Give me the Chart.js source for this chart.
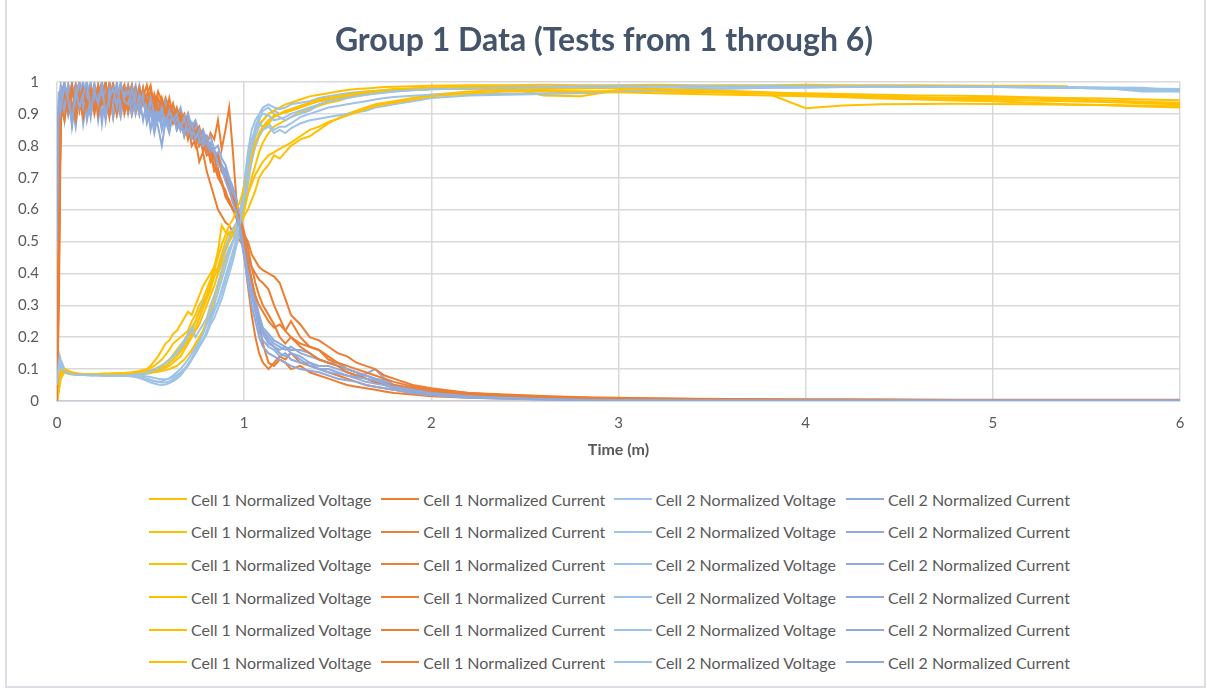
<!DOCTYPE html>
<html>
<head>
<meta charset="utf-8">
<title>Group 1 Data</title>
<script src="https://cdn.jsdelivr.net/npm/chart.js@4.4.0/dist/chart.umd.min.js"></script>
<style>
  html, body { margin: 0; padding: 0; background: #fff; }
  #wrap { position: relative; width: 1207px; height: 688px; overflow: hidden; }
  #frame { position: absolute; left: 5px; top: -2px; width: 1201px; height: 690px; border: 2px solid #dcdfe3; box-sizing: border-box; }
  #chart { position: absolute; left: 0; top: 0; }
  #legend { position: absolute; left: 149px; top: 483px; display: grid; grid-template-columns: repeat(4, 232.3px); grid-auto-rows: 32.6px; font-family: Lato, sans-serif; font-size: 16px; color: #595959; }
  .item { display: flex; align-items: center; white-space: nowrap; }
  .swatch { width: 38px; height: 2px; margin-right: 4px; }
</style>
</head>
<body>
<div id="wrap">
  <div id="frame"></div>
  <canvas id="chart" width="1207" height="470"></canvas>
  <div id="legend"></div>
</div>
<script>
// time in minutes, shared by every series
const times = [
  0, 0.01, 0.02, 0.04, 0.06, 0.08, 0.1, 0.12, 0.14, 0.16,
  0.18, 0.2, 0.22, 0.24, 0.26, 0.28, 0.3, 0.32, 0.34, 0.36,
  0.38, 0.4, 0.42, 0.44, 0.46, 0.48, 0.5, 0.52, 0.54, 0.56,
  0.58, 0.6, 0.62, 0.64, 0.66, 0.68, 0.7, 0.72, 0.74, 0.76,
  0.78, 0.8, 0.82, 0.84, 0.86, 0.88, 0.9, 0.92, 0.94, 0.96,
  0.98, 1, 1.02, 1.04, 1.06, 1.08, 1.1, 1.13, 1.16, 1.19,
  1.22, 1.25, 1.3, 1.35, 1.4, 1.45, 1.5, 1.55, 1.6, 1.65,
  1.7, 1.75, 1.8, 1.9, 2, 2.2, 2.4, 2.6, 2.8, 3,
  3.2, 3.4, 3.6, 3.8, 4, 4.2, 4.4, 4.6, 4.8, 5,
  5.2, 5.4, 5.6, 5.8, 6
];

// test 1
const test1Cell1Voltage = [
  0, 0.06, 0.1, 0.09, 0.085, 0.083, 0.082, 0.082, 0.082, 0.082,
  0.082, 0.082, 0.083, 0.083, 0.083, 0.084, 0.084, 0.085, 0.085, 0.086,
  0.087, 0.088, 0.09, 0.092, 0.095, 0.1, 0.11, 0.125, 0.14, 0.16,
  0.18, 0.19, 0.21, 0.22, 0.24, 0.26, 0.28, 0.27, 0.3, 0.33,
  0.36, 0.38, 0.4, 0.42, 0.47, 0.55, 0.53, 0.52, 0.54, 0.55,
  0.57, 0.6, 0.65, 0.7, 0.74, 0.78, 0.81, 0.84, 0.86, 0.87,
  0.88, 0.89, 0.905, 0.915, 0.925, 0.935, 0.94, 0.95, 0.955, 0.96,
  0.965, 0.97, 0.975, 0.98, 0.982, 0.985, 0.983, 0.958, 0.955, 0.975,
  0.972, 0.97, 0.968, 0.965, 0.965, 0.962, 0.96, 0.958, 0.957, 0.955,
  0.952, 0.95, 0.948, 0.945, 0.943
];
const test1Cell1Current = [
  0, 0.45, 0.93, 0.97, 0.9, 0.96, 0.99, 0.91, 0.97, 0.93,
  0.98, 0.9, 0.96, 1, 0.92, 0.97, 0.89, 0.95, 0.99, 0.92,
  0.97, 0.9, 0.96, 0.93, 0.98, 0.91, 0.95, 0.89, 0.94, 0.9,
  0.93, 0.87, 0.91, 0.86, 0.89, 0.83, 0.87, 0.8, 0.82, 0.75,
  0.78, 0.72, 0.68, 0.64, 0.6, 0.58, 0.56, 0.55, 0.53, 0.52,
  0.5, 0.48, 0.42, 0.36, 0.3, 0.24, 0.18, 0.12, 0.11, 0.13,
  0.12, 0.1, 0.11, 0.09, 0.08, 0.07, 0.06, 0.05, 0.045, 0.04,
  0.035, 0.03, 0.025, 0.02, 0.015, 0.01, 0.008, 0.006, 0.005, 0.004,
  0.004, 0.003, 0.003, 0.003, 0.002, 0.002, 0.002, 0.002, 0.002, 0.002,
  0.002, 0.002, 0.002, 0.002, 0.002
];
const test1Cell2Voltage = [
  0.05, 0.15, 0.13, 0.1, 0.09, 0.085, 0.083, 0.082, 0.082, 0.081,
  0.081, 0.081, 0.081, 0.08, 0.08, 0.08, 0.08, 0.08, 0.079, 0.079,
  0.078, 0.077, 0.075, 0.072, 0.068, 0.063, 0.058, 0.055, 0.052, 0.05,
  0.052, 0.056, 0.062, 0.07, 0.08, 0.095, 0.11, 0.13, 0.15, 0.17,
  0.19, 0.21, 0.24, 0.26, 0.29, 0.32, 0.36, 0.4, 0.44, 0.49,
  0.53, 0.6, 0.7, 0.78, 0.83, 0.86, 0.88, 0.9, 0.91, 0.9,
  0.905, 0.915, 0.925, 0.935, 0.94, 0.945, 0.95, 0.955, 0.96, 0.965,
  0.967, 0.97, 0.972, 0.975, 0.977, 0.98, 0.982, 0.983, 0.984, 0.985,
  0.986, 0.984, 0.987, 0.985, 0.986, 0.984, 0.985, 0.986, 0.984, 0.985,
  0.983, 0.982, 0.98, 0.975, 0.972
];
const test1Cell2Current = [
  0.7, 0.92, 0.97, 0.88, 0.99, 0.93, 0.86, 0.97, 1, 0.9,
  0.95, 0.99, 0.88, 0.96, 1, 0.9, 0.97, 0.93, 0.99, 0.91,
  0.96, 0.99, 0.9, 0.95, 0.88, 0.94, 0.85, 0.91, 0.86, 0.8,
  0.88, 0.84, 0.9, 0.85, 0.88, 0.83, 0.86, 0.82, 0.84, 0.8,
  0.82, 0.78, 0.8, 0.75, 0.77, 0.72, 0.73, 0.68, 0.66, 0.62,
  0.58, 0.52, 0.45, 0.38, 0.3, 0.25, 0.22, 0.2, 0.18, 0.17,
  0.16, 0.17, 0.15, 0.14, 0.13, 0.12, 0.11, 0.1, 0.09, 0.08,
  0.07, 0.06, 0.05, 0.035, 0.025, 0.015, 0.01, 0.006, 0.004, 0.003,
  0.003, 0.002, 0.002, 0.002, 0.002, 0.002, 0.002, 0.002, 0.002, 0.002,
  0.002, 0.002, 0.002, 0.002, 0.002
];

// test 2
const test2Cell1Voltage = [
  0, 0.05, 0.09, 0.1, 0.095, 0.09, 0.088, 0.086, 0.085, 0.085,
  0.085, 0.085, 0.085, 0.086, 0.086, 0.086, 0.087, 0.087, 0.088, 0.088,
  0.089, 0.09, 0.092, 0.094, 0.097, 0.1, 0.105, 0.11, 0.12, 0.13,
  0.145, 0.16, 0.18, 0.19, 0.2, 0.21, 0.22, 0.25, 0.27, 0.3,
  0.32, 0.35, 0.38, 0.42, 0.4, 0.43, 0.47, 0.5, 0.52, 0.53,
  0.55, 0.58, 0.6, 0.63, 0.66, 0.7, 0.72, 0.74, 0.77, 0.76,
  0.78, 0.8, 0.82, 0.83, 0.85, 0.87, 0.885, 0.9, 0.91, 0.92,
  0.93, 0.935, 0.94, 0.95, 0.96, 0.97, 0.975, 0.978, 0.98, 0.982,
  0.978, 0.972, 0.97, 0.965, 0.958, 0.955, 0.953, 0.952, 0.95, 0.95,
  0.948, 0.945, 0.942, 0.938, 0.935
];
const test2Cell1Current = [
  0, 0.6, 0.95, 0.9, 0.98, 0.92, 0.88, 0.97, 0.93, 0.99,
  0.9, 0.96, 0.92, 0.99, 0.89, 0.95, 0.98, 0.91, 0.97, 0.93,
  0.99, 0.92, 0.96, 0.9, 0.98, 0.93, 0.97, 0.91, 0.95, 0.92,
  0.94, 0.9, 0.93, 0.88, 0.91, 0.86, 0.9, 0.84, 0.87, 0.83,
  0.85, 0.8, 0.84, 0.82, 0.88, 0.79, 0.85, 0.92, 0.78, 0.62,
  0.55, 0.5, 0.45, 0.42, 0.4, 0.38, 0.37, 0.35, 0.3, 0.26,
  0.22, 0.2, 0.18, 0.17, 0.16, 0.14, 0.12, 0.1, 0.09, 0.07,
  0.06, 0.05, 0.045, 0.035, 0.03, 0.02, 0.015, 0.012, 0.01, 0.008,
  0.007, 0.006, 0.005, 0.005, 0.004, 0.004, 0.004, 0.003, 0.003, 0.003,
  0.003, 0.003, 0.003, 0.003, 0.003
];
const test2Cell2Voltage = [
  0.03, 0.12, 0.11, 0.095, 0.088, 0.085, 0.084, 0.083, 0.083, 0.082,
  0.082, 0.082, 0.082, 0.081, 0.081, 0.081, 0.081, 0.08, 0.08, 0.08,
  0.079, 0.078, 0.076, 0.074, 0.071, 0.068, 0.065, 0.062, 0.06, 0.062,
  0.066, 0.072, 0.08, 0.09, 0.1, 0.115, 0.13, 0.15, 0.17, 0.19,
  0.22, 0.24, 0.26, 0.29, 0.31, 0.34, 0.38, 0.42, 0.46, 0.5,
  0.56, 0.63, 0.72, 0.8, 0.85, 0.88, 0.91, 0.92, 0.9, 0.89,
  0.88, 0.89, 0.9, 0.91, 0.93, 0.94, 0.95, 0.955, 0.96, 0.962,
  0.965, 0.968, 0.97, 0.975, 0.978, 0.98, 0.983, 0.985, 0.986, 0.986,
  0.988, 0.986, 0.988, 0.987, 0.988, 0.986, 0.988, 0.987, 0.986, 0.985,
  0.984, 0.982, 0.981, 0.97, 0.97
];
const test2Cell2Current = [
  0.55, 0.9, 0.96, 1, 0.9, 0.97, 0.93, 0.99, 0.87, 0.95,
  1, 0.92, 0.97, 0.89, 0.98, 0.94, 1, 0.9, 0.96, 0.99,
  0.92, 0.97, 0.94, 0.99, 0.93, 0.96, 0.9, 0.94, 0.92, 0.88,
  0.93, 0.89, 0.92, 0.87, 0.9, 0.86, 0.88, 0.84, 0.86, 0.82,
  0.84, 0.8, 0.81, 0.77, 0.78, 0.73, 0.72, 0.69, 0.65, 0.6,
  0.55, 0.48, 0.4, 0.33, 0.28, 0.24, 0.21, 0.18, 0.17, 0.16,
  0.17, 0.15, 0.14, 0.12, 0.11, 0.11, 0.1, 0.09, 0.08, 0.085,
  0.1, 0.07, 0.05, 0.03, 0.02, 0.012, 0.008, 0.005, 0.004, 0.003,
  0.003, 0.003, 0.002, 0.002, 0.002, 0.002, 0.002, 0.002, 0.002, 0.002,
  0.002, 0.002, 0.002, 0.002, 0.002
];

// test 3 (stops at 5.4 min)
const test3Cell1Voltage = [
  0, 0.04, 0.08, 0.095, 0.09, 0.086, 0.084, 0.083, 0.083, 0.082,
  0.082, 0.082, 0.082, 0.082, 0.082, 0.083, 0.083, 0.083, 0.084, 0.084,
  0.084, 0.085, 0.085, 0.086, 0.087, 0.088, 0.09, 0.092, 0.095, 0.1,
  0.105, 0.11, 0.12, 0.13, 0.14, 0.16, 0.18, 0.2, 0.22, 0.24,
  0.27, 0.3, 0.33, 0.36, 0.4, 0.44, 0.48, 0.51, 0.52, 0.55,
  0.6, 0.68, 0.76, 0.82, 0.85, 0.87, 0.88, 0.9, 0.91, 0.92,
  0.93, 0.935, 0.945, 0.955, 0.96, 0.965, 0.97, 0.975, 0.978, 0.98,
  0.982, 0.984, 0.985, 0.987, 0.988, 0.99, 0.99, 0.991, 0.99, 0.99,
  0.991, 0.99, 0.99, 0.99, 0.991, 0.99, 0.99, 0.99, 0.989, 0.988,
  0.988, 0.987, null, null, null
];
const test3Cell1Current = [
  0, 0.3, 0.88, 0.95, 0.99, 0.92, 0.96, 1, 0.9, 0.95,
  0.98, 0.93, 0.99, 0.94, 0.97, 0.91, 0.99, 0.95, 0.92, 0.98,
  0.94, 0.99, 0.93, 0.97, 0.95, 0.99, 0.92, 0.96, 0.93, 0.9,
  0.95, 0.92, 0.88, 0.91, 0.86, 0.88, 0.84, 0.86, 0.81, 0.83,
  0.79, 0.8, 0.76, 0.74, 0.7, 0.68, 0.65, 0.63, 0.6, 0.58,
  0.55, 0.52, 0.5, 0.46, 0.44, 0.42, 0.41, 0.4, 0.39, 0.37,
  0.32, 0.27, 0.24, 0.2, 0.19, 0.17, 0.15, 0.14, 0.12, 0.11,
  0.1, 0.08, 0.07, 0.05, 0.04, 0.025, 0.018, 0.013, 0.01, 0.008,
  0.007, 0.006, 0.005, 0.005, 0.004, 0.004, 0.004, 0.004, 0.003, 0.003,
  0.003, 0.003, null, null, null
];
const test3Cell2Voltage = [
  0.06, 0.14, 0.12, 0.1, 0.09, 0.086, 0.084, 0.083, 0.082, 0.082,
  0.081, 0.081, 0.081, 0.081, 0.081, 0.08, 0.08, 0.08, 0.08, 0.08,
  0.08, 0.08, 0.081, 0.082, 0.083, 0.085, 0.088, 0.092, 0.097, 0.103,
  0.11, 0.12, 0.13, 0.145, 0.16, 0.18, 0.2, 0.22, 0.25, 0.28,
  0.31, 0.33, 0.36, 0.39, 0.42, 0.45, 0.48, 0.51, 0.54, 0.56,
  0.6, 0.67, 0.75, 0.81, 0.85, 0.87, 0.86, 0.87, 0.85, 0.86,
  0.86, 0.87, 0.89, 0.9, 0.91, 0.92, 0.925, 0.93, 0.935, 0.94,
  0.945, 0.95, 0.953, 0.957, 0.96, 0.962, 0.963, 0.965, 0.966, 0.968,
  0.975, 0.978, 0.98, 0.982, 0.983, 0.984, 0.985, 0.985, 0.984, 0.985,
  0.984, 0.983, null, null, null
];
const test3Cell2Current = [
  0.8, 0.95, 0.89, 0.98, 0.93, 1, 0.91, 0.96, 0.99, 0.88,
  0.94, 0.98, 0.92, 1, 0.93, 0.97, 0.89, 0.99, 0.94, 0.97,
  0.9, 0.96, 0.99, 0.91, 0.97, 0.93, 0.95, 0.88, 0.93, 0.9,
  0.94, 0.9, 0.93, 0.89, 0.92, 0.87, 0.9, 0.86, 0.88, 0.84,
  0.85, 0.82, 0.83, 0.79, 0.8, 0.76, 0.74, 0.7, 0.67, 0.63,
  0.57, 0.5, 0.44, 0.38, 0.32, 0.27, 0.23, 0.21, 0.19, 0.18,
  0.17, 0.16, 0.16, 0.15, 0.13, 0.12, 0.12, 0.1, 0.09, 0.08,
  0.07, 0.065, 0.05, 0.04, 0.03, 0.02, 0.012, 0.007, 0.005, 0.004,
  0.003, 0.003, 0.003, 0.002, 0.002, 0.002, 0.002, 0.002, 0.002, 0.002,
  0.002, 0.002, null, null, null
];

// test 4
const test4Cell1Voltage = [
  0, 0.05, 0.1, 0.1, 0.092, 0.088, 0.086, 0.085, 0.085, 0.084,
  0.084, 0.084, 0.084, 0.084, 0.085, 0.085, 0.085, 0.086, 0.086, 0.087,
  0.087, 0.088, 0.088, 0.089, 0.09, 0.092, 0.094, 0.097, 0.1, 0.105,
  0.11, 0.12, 0.13, 0.14, 0.155, 0.17, 0.19, 0.21, 0.23, 0.26,
  0.29, 0.32, 0.35, 0.39, 0.42, 0.46, 0.5, 0.53, 0.52, 0.54,
  0.58, 0.64, 0.7, 0.76, 0.8, 0.83, 0.85, 0.87, 0.89, 0.9,
  0.905, 0.91, 0.92, 0.93, 0.94, 0.945, 0.95, 0.955, 0.96, 0.965,
  0.968, 0.97, 0.973, 0.976, 0.978, 0.98, 0.976, 0.972, 0.97, 0.972,
  0.97, 0.968, 0.966, 0.963, 0.918, 0.926, 0.93, 0.931, 0.932, 0.931,
  0.93, 0.929, 0.928, 0.926, 0.925
];
const test4Cell1Current = [
  0, 0.55, 0.9, 0.99, 0.91, 0.97, 0.93, 0.99, 0.9, 0.96,
  0.92, 0.98, 0.9, 0.95, 1, 0.92, 0.97, 0.9, 0.96, 0.99,
  0.91, 0.95, 0.98, 0.92, 0.96, 0.9, 0.97, 0.93, 0.9, 0.95,
  0.91, 0.88, 0.93, 0.87, 0.9, 0.85, 0.88, 0.83, 0.85, 0.8,
  0.82, 0.77, 0.78, 0.72, 0.73, 0.68, 0.66, 0.62, 0.6, 0.57,
  0.53, 0.46, 0.36, 0.27, 0.2, 0.15, 0.12, 0.1, 0.12, 0.14,
  0.13, 0.15, 0.12, 0.11, 0.1, 0.09, 0.08, 0.07, 0.06, 0.05,
  0.045, 0.04, 0.035, 0.025, 0.02, 0.013, 0.01, 0.008, 0.006, 0.005,
  0.005, 0.004, 0.004, 0.003, 0.003, 0.003, 0.003, 0.003, 0.003, 0.003,
  0.003, 0.003, 0.003, 0.003, 0.003
];
const test4Cell2Voltage = [
  0.04, 0.13, 0.115, 0.098, 0.09, 0.086, 0.084, 0.083, 0.083, 0.082,
  0.082, 0.082, 0.081, 0.081, 0.081, 0.081, 0.08, 0.08, 0.08, 0.08,
  0.08, 0.08, 0.08, 0.079, 0.078, 0.077, 0.075, 0.072, 0.07, 0.068,
  0.068, 0.07, 0.075, 0.082, 0.09, 0.1, 0.115, 0.13, 0.15, 0.17,
  0.19, 0.22, 0.25, 0.28, 0.31, 0.35, 0.39, 0.43, 0.47, 0.51,
  0.55, 0.6, 0.68, 0.75, 0.8, 0.83, 0.85, 0.86, 0.84, 0.85,
  0.84, 0.855, 0.87, 0.88, 0.885, 0.89, 0.895, 0.9, 0.905, 0.91,
  0.92, 0.925, 0.93, 0.94, 0.95, 0.958, 0.96, 0.962, 0.965, 0.97,
  0.975, 0.978, 0.98, 0.982, 0.983, 0.984, 0.985, 0.984, 0.985, 0.984,
  0.983, 0.982, 0.98, 0.98, 0.978
];
const test4Cell2Current = [
  0.62, 0.93, 0.99, 0.9, 0.96, 0.88, 0.99, 0.93, 0.97, 1,
  0.9, 0.95, 0.99, 0.87, 0.97, 0.92, 0.98, 0.94, 0.89, 0.96,
  0.99, 0.93, 0.97, 0.9, 0.95, 0.91, 0.93, 0.87, 0.92, 0.85,
  0.9, 0.87, 0.91, 0.88, 0.86, 0.84, 0.87, 0.83, 0.85, 0.81,
  0.83, 0.79, 0.8, 0.76, 0.77, 0.74, 0.72, 0.68, 0.64, 0.6,
  0.56, 0.5, 0.43, 0.35, 0.28, 0.22, 0.19, 0.17, 0.16, 0.14,
  0.15, 0.13, 0.12, 0.12, 0.1, 0.09, 0.085, 0.08, 0.07, 0.06,
  0.055, 0.05, 0.04, 0.03, 0.022, 0.014, 0.009, 0.006, 0.004, 0.003,
  0.003, 0.002, 0.002, 0.002, 0.002, 0.002, 0.002, 0.002, 0.002, 0.002,
  0.002, 0.002, 0.002, 0.002, 0.002
];

// test 5
const test5Cell1Voltage = [
  0, 0.03, 0.07, 0.09, 0.088, 0.085, 0.084, 0.083, 0.083, 0.083,
  0.083, 0.083, 0.083, 0.083, 0.083, 0.084, 0.084, 0.084, 0.085, 0.085,
  0.085, 0.085, 0.086, 0.086, 0.087, 0.088, 0.089, 0.09, 0.092, 0.094,
  0.097, 0.1, 0.105, 0.11, 0.12, 0.13, 0.145, 0.16, 0.18, 0.2,
  0.22, 0.25, 0.28, 0.32, 0.36, 0.4, 0.44, 0.47, 0.5, 0.52,
  0.55, 0.6, 0.65, 0.68, 0.71, 0.73, 0.75, 0.77, 0.78, 0.79,
  0.8, 0.81, 0.83, 0.85, 0.86, 0.875, 0.885, 0.895, 0.905, 0.915,
  0.925, 0.93, 0.935, 0.945, 0.955, 0.965, 0.97, 0.972, 0.97, 0.968,
  0.965, 0.962, 0.96, 0.958, 0.955, 0.952, 0.948, 0.945, 0.942, 0.94,
  0.935, 0.93, 0.927, 0.923, 0.92
];
const test5Cell1Current = [
  0, 0.5, 0.92, 0.88, 0.96, 0.9, 0.99, 0.94, 0.89, 0.97,
  0.93, 0.99, 0.9, 0.96, 0.92, 1, 0.94, 0.9, 0.97, 0.93,
  0.98, 0.9, 0.95, 0.92, 0.97, 0.94, 0.9, 0.96, 0.91, 0.93,
  0.88, 0.92, 0.87, 0.9, 0.85, 0.88, 0.82, 0.86, 0.8, 0.84,
  0.78, 0.81, 0.75, 0.77, 0.71, 0.69, 0.64, 0.62, 0.6, 0.58,
  0.56, 0.5, 0.43, 0.38, 0.33, 0.3, 0.28, 0.25, 0.23, 0.24,
  0.22, 0.25, 0.2, 0.17, 0.16, 0.13, 0.12, 0.11, 0.1, 0.09,
  0.08, 0.07, 0.06, 0.045, 0.035, 0.025, 0.02, 0.016, 0.012, 0.01,
  0.008, 0.007, 0.006, 0.005, 0.005, 0.005, 0.004, 0.004, 0.004, 0.004,
  0.004, 0.004, 0.004, 0.004, 0.004
];
const test5Cell2Voltage = [
  0.05, 0.13, 0.11, 0.095, 0.088, 0.085, 0.083, 0.082, 0.082, 0.082,
  0.081, 0.081, 0.081, 0.081, 0.08, 0.08, 0.08, 0.08, 0.08, 0.079,
  0.079, 0.078, 0.077, 0.075, 0.073, 0.07, 0.067, 0.063, 0.06, 0.058,
  0.058, 0.061, 0.068, 0.077, 0.088, 0.1, 0.115, 0.135, 0.16, 0.18,
  0.21, 0.24, 0.27, 0.3, 0.34, 0.38, 0.42, 0.46, 0.5, 0.54,
  0.59, 0.68, 0.78, 0.85, 0.88, 0.9, 0.92, 0.93, 0.92, 0.915,
  0.92, 0.93, 0.935, 0.94, 0.95, 0.955, 0.96, 0.965, 0.968, 0.97,
  0.972, 0.974, 0.976, 0.978, 0.98, 0.983, 0.985, 0.986, 0.987, 0.988,
  0.987, 0.988, 0.986, 0.988, 0.987, 0.986, 0.987, 0.986, 0.985, 0.985,
  0.985, 0.984, 0.983, 0.982, 0.972
];
const test5Cell2Current = [
  0.5, 0.88, 0.98, 0.92, 0.99, 0.86, 0.95, 1, 0.92, 0.97,
  0.89, 0.99, 0.94, 0.97, 0.88, 0.98, 0.93, 1, 0.91, 0.95,
  0.97, 0.9, 0.95, 0.92, 0.96, 0.87, 0.91, 0.84, 0.9, 0.86,
  0.89, 0.86, 0.9, 0.85, 0.87, 0.84, 0.88, 0.83, 0.86, 0.82,
  0.8, 0.81, 0.78, 0.79, 0.75, 0.74, 0.71, 0.67, 0.63, 0.58,
  0.52, 0.45, 0.37, 0.3, 0.25, 0.2, 0.17, 0.15, 0.14, 0.13,
  0.12, 0.11, 0.1, 0.095, 0.09, 0.08, 0.07, 0.065, 0.06, 0.05,
  0.045, 0.04, 0.035, 0.025, 0.018, 0.01, 0.007, 0.005, 0.004, 0.003,
  0.003, 0.003, 0.002, 0.002, 0.002, 0.002, 0.002, 0.002, 0.002, 0.002,
  0.002, 0.002, 0.002, 0.002, 0.002
];

// test 6
const test6Cell1Voltage = [
  0, 0.04, 0.09, 0.098, 0.09, 0.087, 0.085, 0.084, 0.084, 0.084,
  0.084, 0.084, 0.084, 0.085, 0.085, 0.085, 0.086, 0.086, 0.086, 0.087,
  0.087, 0.088, 0.089, 0.09, 0.092, 0.094, 0.097, 0.1, 0.105, 0.11,
  0.12, 0.13, 0.145, 0.16, 0.175, 0.19, 0.21, 0.23, 0.25, 0.28,
  0.3, 0.33, 0.37, 0.41, 0.45, 0.49, 0.52, 0.55, 0.57, 0.6,
  0.63, 0.67, 0.72, 0.77, 0.81, 0.84, 0.86, 0.88, 0.895, 0.9,
  0.91, 0.915, 0.925, 0.935, 0.945, 0.95, 0.955, 0.96, 0.965, 0.97,
  0.972, 0.975, 0.978, 0.98, 0.982, 0.984, 0.985, 0.984, 0.982, 0.98,
  0.978, 0.975, 0.972, 0.968, 0.962, 0.958, 0.955, 0.95, 0.947, 0.945,
  0.942, 0.94, 0.937, 0.933, 0.93
];
const test6Cell1Current = [
  0, 0.4, 0.9, 0.97, 0.93, 0.99, 0.89, 0.95, 0.98, 0.92,
  0.97, 0.91, 0.99, 0.93, 0.96, 0.89, 0.98, 0.94, 0.99, 0.9,
  0.95, 0.97, 0.91, 0.98, 0.93, 0.96, 0.99, 0.92, 0.97, 0.94,
  0.9, 0.95, 0.89, 0.92, 0.88, 0.9, 0.85, 0.87, 0.84, 0.86,
  0.81, 0.83, 0.79, 0.76, 0.77, 0.72, 0.7, 0.66, 0.64, 0.6,
  0.57, 0.53, 0.48, 0.42, 0.37, 0.33, 0.3, 0.27, 0.24, 0.2,
  0.18, 0.2, 0.17, 0.15, 0.13, 0.12, 0.11, 0.09, 0.08, 0.07,
  0.06, 0.055, 0.05, 0.04, 0.03, 0.02, 0.015, 0.012, 0.01, 0.008,
  0.007, 0.006, 0.005, 0.005, 0.004, 0.004, 0.004, 0.003, 0.003, 0.003,
  0.003, 0.003, 0.003, 0.003, 0.003
];
const test6Cell2Voltage = [
  0.05, 0.12, 0.105, 0.092, 0.087, 0.084, 0.083, 0.082, 0.082, 0.081,
  0.081, 0.081, 0.081, 0.08, 0.08, 0.08, 0.08, 0.08, 0.08, 0.08,
  0.081, 0.082, 0.083, 0.085, 0.087, 0.09, 0.094, 0.099, 0.105, 0.112,
  0.12, 0.13, 0.14, 0.155, 0.17, 0.19, 0.21, 0.23, 0.2, 0.22,
  0.24, 0.26, 0.3, 0.33, 0.37, 0.41, 0.45, 0.48, 0.5, 0.52,
  0.56, 0.64, 0.73, 0.81, 0.86, 0.89, 0.9, 0.895, 0.88, 0.885,
  0.89, 0.9, 0.91, 0.92, 0.93, 0.94, 0.945, 0.95, 0.955, 0.96,
  0.963, 0.966, 0.97, 0.974, 0.977, 0.98, 0.982, 0.983, 0.985, 0.986,
  0.987, 0.985, 0.987, 0.986, 0.987, 0.985, 0.986, 0.985, 0.986, 0.984,
  0.984, 0.982, 0.98, 0.98, 0.97
];
const test6Cell2Current = [
  0.75, 0.97, 0.91, 0.99, 0.94, 0.87, 0.98, 0.92, 0.96, 1,
  0.91, 0.97, 0.93, 0.99, 0.9, 0.95, 0.98, 0.92, 1, 0.94,
  0.93, 0.98, 0.91, 0.96, 0.94, 0.89, 0.95, 0.9, 0.88, 0.92,
  0.87, 0.91, 0.88, 0.9, 0.85, 0.89, 0.84, 0.87, 0.82, 0.85,
  0.81, 0.83, 0.79, 0.78, 0.74, 0.73, 0.69, 0.66, 0.62, 0.59,
  0.54, 0.47, 0.4, 0.34, 0.29, 0.25, 0.22, 0.19, 0.17, 0.15,
  0.14, 0.15, 0.13, 0.11, 0.1, 0.1, 0.09, 0.08, 0.075, 0.07,
  0.065, 0.055, 0.045, 0.035, 0.025, 0.015, 0.01, 0.006, 0.004, 0.003,
  0.003, 0.002, 0.002, 0.002, 0.002, 0.002, 0.002, 0.002, 0.002, 0.002,
  0.002, 0.002, 0.002, 0.002, 0.002
];

const seriesNames = ['Cell 1 Normalized Voltage', 'Cell 1 Normalized Current', 'Cell 2 Normalized Voltage', 'Cell 2 Normalized Current'];
const seriesColors = ['#FFC000', '#ED7D31', '#9DC3E6', '#8FAADC'];
const xTickLabels = ['0', '1', '2', '3', '4', '5', '6'];
const yTickLabels = ['0', '0.1', '0.2', '0.3', '0.4', '0.5', '0.6', '0.7', '0.8', '0.9', '1'];

const tests = [
  [test1Cell1Voltage, test1Cell1Current, test1Cell2Voltage, test1Cell2Current],
  [test2Cell1Voltage, test2Cell1Current, test2Cell2Voltage, test2Cell2Current],
  [test3Cell1Voltage, test3Cell1Current, test3Cell2Voltage, test3Cell2Current],
  [test4Cell1Voltage, test4Cell1Current, test4Cell2Voltage, test4Cell2Current],
  [test5Cell1Voltage, test5Cell1Current, test5Cell2Voltage, test5Cell2Current],
  [test6Cell1Voltage, test6Cell1Current, test6Cell2Voltage, test6Cell2Current]
];

const datasets = [];
tests.forEach(test => {
  test.forEach((values, k) => {
    datasets.push({
      label: seriesNames[k],
      data: values.map((v, i) => ({ x: times[i], y: v })),
      borderColor: seriesColors[k],
      backgroundColor: seriesColors[k],
      borderWidth: 2,
      pointRadius: 0,
      tension: 0,
      spanGaps: false
    });
  });
});
// excel draws later series on top
datasets.forEach((d, i) => { d.order = datasets.length - i; });

const tickFont = { family: 'Lato', size: 15 };

const chart = new Chart(document.getElementById('chart'), {
  type: 'line',
  data: { datasets },
  options: {
    responsive: false,
    animation: false,
    layout: { padding: { top: 0, left: 1, right: 0, bottom: 15 } },
    plugins: {
      legend: { display: false },
      tooltip: { enabled: false },
      title: {
        display: true,
        text: 'Group 1 Data (Tests from 1 through 6)',
        color: '#44546A',
        font: { family: 'Lato', size: 32, weight: 'bold' },
        padding: { top: 21, bottom: 22.6 }
      }
    },
    scales: {
      x: {
        type: 'linear',
        min: 0,
        max: 6,
        ticks: {
          stepSize: 1,
          color: '#595959',
          font: tickFont,
          padding: 13,
          callback: (v, i) => xTickLabels[i]
        },
        grid: { color: '#D9D9D9', lineWidth: 1.5, drawTicks: false },
        border: { color: '#C8CCD2', width: 1.5 },
        title: {
          display: true,
          text: 'Time (m)',
          color: '#595959',
          font: { family: 'Lato', size: 16, weight: 'bold', lineHeight: 0.625 },
          padding: { top: 0, bottom: 0 }
        }
      },
      y: {
        min: 0,
        max: 1,
        afterFit: scale => { scale.width = 56; },
        ticks: {
          stepSize: 0.1,
          color: '#595959',
          font: tickFont,
          padding: 18,
          callback: (v, i) => yTickLabels[i]
        },
        grid: { color: '#D9D9D9', lineWidth: 1.5, drawTicks: false },
        border: { display: false }
      },
      // empty right-hand box, keeps the plot off the right edge while the title stays centred on the page
      yRight: {
        position: 'right',
        min: 0,
        max: 1,
        afterFit: scale => { scale.width = 27; },
        ticks: { display: false },
        grid: { display: false },
        border: { display: false }
      }
    }
  }
});

// legend, 4 entries per row like the excel one
const legendEl = document.getElementById('legend');
chart.data.datasets.forEach(ds => {
  const item = document.createElement('div');
  item.className = 'item';
  const swatch = document.createElement('span');
  swatch.className = 'swatch';
  swatch.style.background = ds.borderColor;
  const text = document.createElement('span');
  text.textContent = ds.label;
  item.appendChild(swatch);
  item.appendChild(text);
  legendEl.appendChild(item);
});
</script>
</body>
</html>
